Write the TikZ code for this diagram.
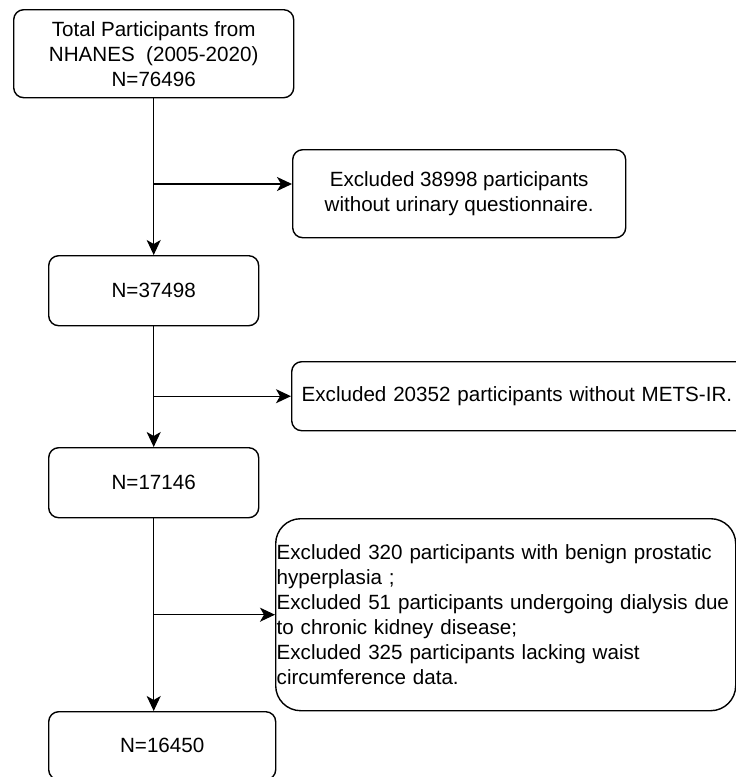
\documentclass[tikz,border=0pt]{standalone}
\usepackage{fontspec}
\setmainfont{Liberation Sans}
\usetikzlibrary{arrows.meta,positioning}

\begin{document}
\begin{tikzpicture}[x=1pt,y=-1pt]
		\tikzstyle{rect} = [rectangle, rounded corners=10pt, draw=black, line width=1.4pt, inner sep=0pt, anchor=north west, font=\fontsize{20.6}{25}\selectfont]
		\tikzstyle{arrow} = [line width=1.4pt,-{Stealth[length=15pt,width=14pt,inset=4pt]}]
		\useasboundingbox (0,0) rectangle (736,777);
		% main column
		\node (total) [rect, minimum width=280pt, minimum height=88pt, align=center] at (13,9) {Total Participants from\\NHANES~~(2005-2020)\\N=76496};
		\node (n1) [rect, minimum width=210pt, minimum height=70pt] at (48,255) {N=37498};
		\node (n2) [rect, minimum width=210pt, minimum height=70pt] at (48,447) {N=17146};
		\node (n3) [rect, minimum width=227pt, minimum height=68pt] at (48,711) {N=16450};
		% exclusions
		\node (excl1) [rect, minimum width=333pt, minimum height=88pt, align=center] at (292,149) {Excluded 38998 participants\\without urinary questionnaire.};
		\node (excl2) [rect, minimum height=69pt, inner xsep=10pt, text width=440pt, align=left] at (291,361) {Excluded 20352 participants without METS-IR.};
		\node (excl3) [rect, rounded corners=25pt, minimum height=192pt, inner xsep=1pt, text width=458pt, align=left] at (275,518) {Excluded 320 participants with benign prostatic\\hyperplasia ;\\\mbox{Excluded 51 participants undergoing dialysis due}\\to chronic kidney disease;\\Excluded 325 participants lacking waist\\circumference data.};
		% connectors
		\coordinate (b1) at (153,184);
		\draw[arrow] (total.south) -- (n1.north);
		\draw[arrow] (b1) -- (b1 -| excl1.west);
		\draw[arrow] (n1.south) -- (n2.north);
		\draw[arrow] (n1.south |- excl2.west) -- (excl2.west);
		\draw[arrow] (n2.south) -- (n2.south |- n3.north);
		\draw[arrow] (n2.south |- excl3.west) -- (excl3.west);
	\end{tikzpicture}
\end{document}
